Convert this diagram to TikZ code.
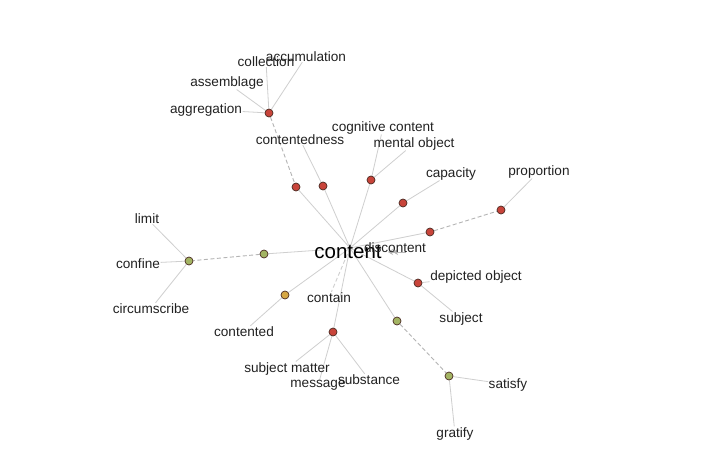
\documentclass[tikz,border=0pt]{standalone}
\usepackage{fontspec}
\setmainfont{Liberation Sans}
\usetikzlibrary{arrows.meta}
\pgfdeclarelayer{paper}
\pgfdeclarelayer{edges}
\pgfsetlayers{paper,edges,main}
\definecolor{Wire}{HTML}{CFCFCF}
\definecolor{DashWire}{HTML}{B4B4B4}
\definecolor{NounRed}{HTML}{C8443A}
\definecolor{VerbGreen}{HTML}{A3B463}
\definecolor{AdjGold}{HTML}{D6A743}
\definecolor{Rim}{HTML}{4A2A22}
\definecolor{Ink}{HTML}{222222}
\tikzset{
  sense/.style={circle, draw=Rim, line width=0.7pt, minimum size=8pt, inner sep=0pt},
  noun/.style={sense, fill=NounRed},
  verb/.style={sense, fill=VerbGreen},
  adj/.style={sense, fill=AdjGold},
  word/.style={inner sep=0.5pt, yshift=-1.5pt, text=Ink, font=\fontsize{13.6}{15}\selectfont},
  hub/.style={inner sep=0pt, text=black, font=\fontsize{20.5}{22}\selectfont},
  link/.style={draw=Wire, line width=0.8pt},
  farlink/.style={draw=DashWire, line width=0.9pt, dash pattern=on 4pt off 2.5pt},
  antonym/.style={draw=DashWire, line width=0.6pt, {Stealth[length=5pt,width=6pt,sep=9pt]Stealth[length=5pt,width=6pt]}-}
}
\begin{document}
\begin{tikzpicture}[x=1pt,y=-1pt]
  \useasboundingbox (0,0) rectangle (719,471);
  \begin{pgfonlayer}{paper}
    \fill[white] (0,0) rectangle (719,471);
  \end{pgfonlayer}
  % sense dots
  \node[noun] (aggr) at (269,113) {};
  \node[noun] (sense1) at (296,187) {};
  \node[noun] (sense2) at (323,186) {};
  \node[noun] (sense3) at (371,180) {};
  \node[noun] (sense4) at (403,203) {};
  \node[noun] (sense5) at (430,232) {};
  \node[noun] (propsense) at (501,210) {};
  \node[noun] (sense6) at (418,283) {};
  \node[verb] (sense7) at (397,321) {};
  \node[verb] (satsense) at (449,376) {};
  \node[noun] (sense8) at (333,332) {};
  \node[adj] (sense9) at (285,295) {};
  \node[verb] (sense10) at (264,254) {};
  \node[verb] (limsense) at (189,261) {};
  % words
  \node[hub] (content) at (348,252) {content};
  \node[word] (accumulation) at (306,55) {accumulation};
  \node[word] (collection) at (266,60) {collection};
  \node[word] (assemblage) at (227,81) {assemblage};
  \node[word] (aggregation) at (206,108) {aggregation};
  \node[word] (contentedness) at (300,138) {contentedness};
  \node[word] (cognitive) at (383,126) {cognitive content};
  \node[word] (mental) at (414,142) {mental object};
  \node[word] (capacity) at (451,172) {capacity};
  \node[word] (proportion) at (539,170) {proportion};
  \node[word] (discontent) at (395,246) {discontent};
  \node[word] (depicted) at (476,275) {depicted object};
  \node[word] (subject) at (461,317) {subject};
  \node[word] (limit) at (147,217) {limit};
  \node[word] (confine) at (138,262) {confine};
  \node[word] (circumscribe) at (151,307) {circumscribe};
  \node[word] (contented) at (244,330) {contented};
  \node[word] (contain) at (329,296) {contain};
  \node[word] (subjmatter) at (287,367) {subject matter};
  \node[word] (message) at (318,384) {message};
  \node[word] (substance) at (369,378) {substance};
  \node[word] (satisfy) at (508,383) {satisfy};
  \node[word] (gratify) at (455,432) {gratify};
  \coordinate (hubpt) at (350,248);
  \coordinate (antA) at (379,252);
  \coordinate (antB) at (406,252);
  % edges, under the dots and texts
  \begin{pgfonlayer}{edges}
  \foreach \s in {sense1,sense2,sense3,sense4,sense5,sense6,sense7,sense8,sense9,sense10}
    \draw[link] (hubpt) -- (\s);
  \draw[farlink,draw=Wire] (hubpt) -- (contain);
  \draw[antonym] (antA) -- (antB);
  \foreach \w in {aggregation,assemblage,collection,accumulation}
    \draw[link] (aggr) -- (\w);
  \draw[farlink] (aggr) -- (sense1);
  \draw[link] (sense2) -- (contentedness);
  \draw[link] (sense3) -- (cognitive);
  \draw[link] (sense3) -- (mental);
  \draw[link] (sense4) -- (capacity);
  \draw[farlink] (sense5) -- (propsense);
  \draw[link] (propsense) -- (proportion);
  \draw[link] (sense6) -- (depicted);
  \draw[link] (sense6) -- (subject);
  \draw[farlink] (sense7) -- (satsense);
  \draw[link] (satsense) -- (satisfy);
  \draw[link] (satsense) -- (gratify);
  \foreach \w in {subjmatter,message,substance}
    \draw[link] (sense8) -- (\w);
  \draw[link] (sense9) -- (contented);
  \draw[farlink] (sense10) -- (limsense);
  \foreach \w in {limit,confine,circumscribe}
    \draw[link] (limsense) -- (\w);
  \end{pgfonlayer}
\end{tikzpicture}
\end{document}
